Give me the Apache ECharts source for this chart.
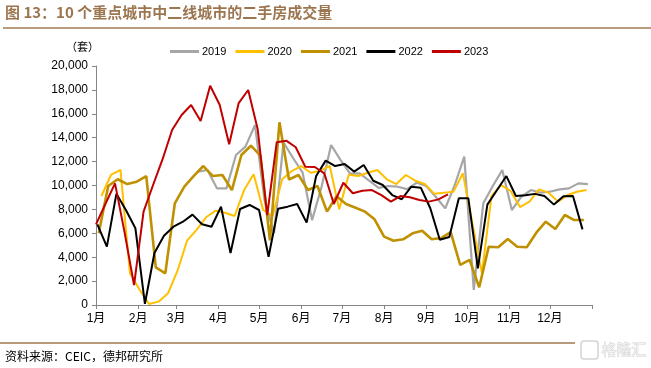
<!DOCTYPE html>
<html><head><meta charset="utf-8">
<script src="https://cdn.jsdelivr.net/npm/echarts@6/dist/echarts.min.js"></script>
<style>html,body{margin:0;padding:0;background:#fff}#c{width:651px;height:368px}</style>
</head><body><div id="c"></div>
<script>
// ---- data ----
const monthLabels = ['1月','2月','3月','4月','5月','6月','7月','8月','9月','10月','11月','12月'];
const yTicks = [0, 2000, 4000, 6000, 8000, 10000, 12000, 14000, 16000, 18000, 20000];
const years = ['2019', '2020', '2021', '2022', '2023'];
const firstWeek = ['2019-01-06', '2020-01-05', '2021-01-03', '2022-01-02', '2023-01-01'];
const s2019 = [null,null,null,null,null,null,null,null,null,null,
  11150,11300,9760,9760,12550,13250,15060,8800,6000,13600,
  12300,11100,7100,9900,13390,12130,11000,11020,10400,9800,
  9960,9900,9700,10230,9960,9060,8090,10040,12410,1260,
  8510,9960,11300,7950,9060,9620,9400,9480,9680,9760,10180,10120];
const s2020 = [9120,10880,11300,2650,1300,80,280,980,2870,5380,
  6280,7340,7890,7720,7450,9620,10940,7950,7450,10520,
  11210,11630,11070,11240,11630,8010,10900,10790,11070,11300,
  10520,10120,10880,10400,10120,9300,9400,9480,11020,6800,
  2650,9100,10040,9560,8200,8650,9680,9400,8650,9200,9480,9620];
const s2021 = [6000,9960,10520,10120,10320,10790,3150,2650,8510,9900,
  10800,11630,10790,10880,9620,12550,13330,12500,5400,15290,
  10500,10880,9620,9960,7810,9100,8450,8140,7810,7170,
  5720,5380,5500,6000,6220,5500,5600,6100,3350,3770,
  1480,4880,4830,5520,4880,4830,6050,6970,6360,7530,7110,7110];
const s2022 = [6750,4880,9300,7950,6420,100,4350,5800,6550,6970,
  7560,6760,6550,8230,4350,8030,8370,7950,4040,8050,
  8230,8450,6890,10790,12080,11630,11800,11160,11720,10400,
  10040,9200,8850,9900,9820,8100,5460,5690,8930,8930,
  3070,8400,9600,10790,9120,9180,9300,9120,8400,9100,9120,6330];
const s2023 = [6750,8470,10180,6100,1670,7810,10040,12200,14640,15900,
  16740,15400,18350,16760,13450,16900,17990,14700,7530,13620,
  13750,13200,11570,11550,11020,8450,10230,9350,9560,9620,
  9200,8650,9120,9010,8790,8650,8840,9260];
const colors = ['#A6A6A6', '#FFC000', '#BF9000', '#000000', '#C00000'];
const widths = [2.2, 2, 2.6, 2, 2];

// ---- helpers ----
function dayOfYear(str) {
  const d = new Date(str + 'T00:00:00Z');
  return (d - Date.UTC(d.getUTCFullYear(), 0, 1)) / 86400000;
}
const monthStarts = [];
for (let m = 0; m <= 12; m++) monthStarts.push((Date.UTC(2023, m, 1) - Date.UTC(2023, 0, 1)) / 86400000);
const allSeries = [s2019, s2020, s2021, s2022, s2023];

const chart = echarts.init(document.getElementById('c'), null, {renderer: 'canvas'});
const fontLat = "'Liberation Sans', Arial, 'Noto Sans CJK SC', sans-serif";
const fontCjk = "'Liberation Sans', 'Noto Sans CJK SC', sans-serif";

chart.setOption({
  animation: false,
  backgroundColor: '#ffffff',
  grid: {left: 96, right: 59, top: 66, bottom: 63, containLabel: false},
  legend: {
    left: 165, top: 41,
    icon: 'rect', itemWidth: 29, itemHeight: 3, itemGap: 9,
    textStyle: {fontSize: 11, color: '#000', fontFamily: fontLat, padding: [0, 0, 0, -2]},
    data: years
  },
  xAxis: {
    type: 'value', min: 0, max: 365,
    axisLine: {show: true, lineStyle: {color: '#868686', width: 1}},
    axisTick: {show: true, inside: false, length: 4, customValues: monthStarts, lineStyle: {color: '#868686'}},
    axisLabel: {
      customValues: monthStarts.slice(0, 12),
      fontSize: 12, color: '#000', fontFamily: fontCjk, margin: 8,
      formatter: function (v) { const k = monthStarts.indexOf(v); return k >= 0 && k < 12 ? monthLabels[k] : ''; }
    },
    splitLine: {show: false}
  },
  yAxis: {
    type: 'value', min: yTicks[0], max: yTicks[yTicks.length - 1], interval: 2000,
    axisLine: {show: true, lineStyle: {color: '#868686', width: 1}},
    axisTick: {show: true, inside: false, length: 4, lineStyle: {color: '#868686'}},
    axisLabel: {
      fontSize: 12, color: '#000', fontFamily: fontLat, margin: 8,
      formatter: function (v) { return v.toLocaleString('en-US'); }
    },
    splitLine: {show: false}
  },
  graphic: [
    {type: 'text', left: 5, top: 5, style: {text: '图 13：10 个重点城市中二线城市的二手房成交量', fontSize: 15, fontWeight: 'bold', fill: '#9C7650', fontFamily: "'Noto Sans CJK SC', sans-serif"}},
    {type: 'line', shape: {x1: 3, y1: 28, x2: 651, y2: 28}, style: {stroke: '#A07850', lineWidth: 1.5}},
    {type: 'text', left: 66, top: 41, style: {text: '（套）', fontSize: 11, fill: '#000', fontFamily: "'Noto Sans CJK SC', sans-serif"}},
    {type: 'line', shape: {x1: 0, y1: 343, x2: 575, y2: 343}, style: {stroke: '#A07850', lineWidth: 1.5}},
    {type: 'text', left: 5, top: 350, style: {text: '资料来源：CEIC，德邦研究所', fontSize: 12, fill: '#000', fontFamily: "'Noto Sans CJK SC', sans-serif"}},
    {type: 'rect', shape: {x: 581, y: 341, width: 17, height: 18, r: 3}, style: {fill: 'none', stroke: '#d4d4d4', lineWidth: 1.5}},
    {type: 'text', left: 601, top: 341, style: {text: '格隆汇', fontSize: 15, fill: '#f2f2f2', stroke: '#cfcfcf', lineWidth: 0.8, fontFamily: "'Noto Sans CJK SC', sans-serif"}}
  ],
  series: years.map(function (y, k) {
    const start = dayOfYear(firstWeek[k]);
    return {
      name: y, type: 'line', showSymbol: false, symbol: 'none',
      connectNulls: false,
      lineStyle: {color: colors[k], width: widths[k]},
      itemStyle: {color: colors[k]},
      data: allSeries[k].map(function (v, i) { return [start + 7 * i, v]; })
    };
  })
});
</script></body></html>
